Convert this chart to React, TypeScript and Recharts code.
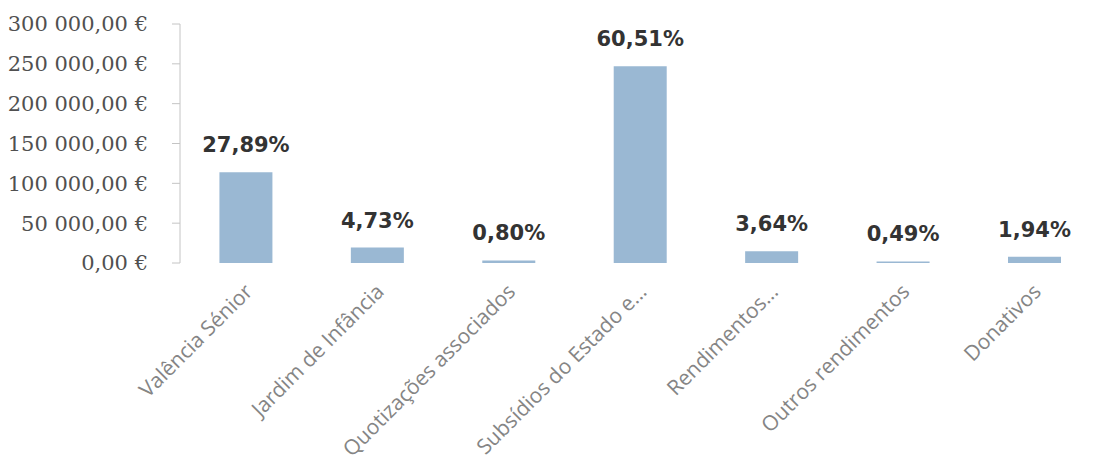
import { BarChart, Bar, XAxis, YAxis, LabelList } from "recharts";

const categories = [
  "Valência Sénior",
  "Jardim de Infância",
  "Quotizações associados",
  "Subsídios do Estado e...",
  "Rendimentos...",
  "Outros rendimentos",
  "Donativos",
];
const amounts = [113800, 19300, 3260, 246900, 14850, 2000, 7920];
const shares = ["27,89%", "4,73%", "0,80%", "60,51%", "3,64%", "0,49%", "1,94%"];
const yTicks = [0, 50000, 100000, 150000, 200000, 250000, 300000];

const data = categories.map((name, i) => ({
  name,
  value: amounts[i],
  pct: shares[i],
}));

function euro(v: number) {
  const whole = Math.round(v)
    .toString()
    .replace(/\B(?=(\d{3})+(?!\d))/g, " ");
  return `${whole},00 €`;
}

function CategoryTick(props: any) {
  const { x, y, payload } = props;
  return (
    <g transform={`translate(${x + 8},${y + 22})`}>
      <text
        textAnchor="end"
        transform="rotate(-45)"
        fill="#858585"
        fontSize={21}
        fontFamily="'Open Sans', sans-serif"
      >
        {payload.value}
      </text>
    </g>
  );
}

export default function App() {
  return (
    <div style={{ position: "absolute", left: 0, top: 0, background: "#fff" }}>
      <BarChart
        width={1102}
        height={470}
        data={data}
        margin={{ top: 24, right: 2, bottom: 0, left: 0 }}
        barCategoryGap="30%"
      >
        <XAxis
          dataKey="name"
          axisLine={false}
          tickLine={false}
          interval={0}
          height={207}
          tick={<CategoryTick />}
        />
        <YAxis
          width={180}
          domain={[0, 300000]}
          ticks={yTicks}
          tickFormatter={euro}
          axisLine={{ stroke: "#c4c4c4" }}
          tickLine={{ stroke: "#c4c4c4" }}
          tickSize={8}
          tickMargin={24}
          tick={{ fill: "#505050", fontSize: 21, fontFamily: "'DejaVu Serif', serif" }}
        />
        <Bar dataKey="value" fill="#9ab8d3" isAnimationActive={false}>
          <LabelList
            dataKey="pct"
            position="top"
            offset={20}
            fill="#333"
            fontSize={21}
            fontWeight="bold"
            fontFamily="'DejaVu Sans', sans-serif"
          />
        </Bar>
      </BarChart>
    </div>
  );
}
